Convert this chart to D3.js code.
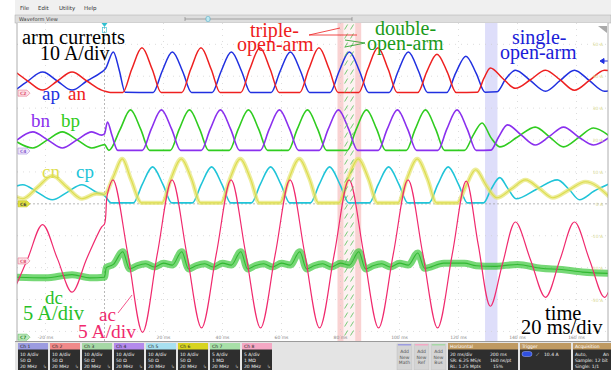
<!DOCTYPE html>
<html>
<head>
<meta charset="utf-8">
<script src="https://cdn.jsdelivr.net/npm/d3@7"></script>
<style>
  body { margin: 0; background: #fff; }
  svg { display: block; }
</style>
</head>
<body>
<svg id="chart" width="611" height="370"></svg>
<script>
// ---- data: [time ms, current A] ----
const timeTicks = [-20, 20, 40, 60, 80, 100, 120, 140, 160];
const scaleLabels = ['50 A', '40 A', '30 A', '20 A', '10 A', '0 A', '-10 A', '-20 A', '-30 A'];

const ap = [
  [-30,1.1],[-26,3.8],[-21,6.6],[-16,3.8],[-11,0.95],[-6,3.8],[-1,6.6],
  [0.3,7.6],[3,12.9],[5,7.2],[7,0.3],
  [16.5,0.2],[19.5,6.8],[23,12.9],[26.5,6.8],[29.5,0.2],
  [36.5,0.2],[39.5,6.8],[43,12.9],[46.5,6.8],[49.5,0.2],
  [56.5,0.2],[59.5,6.8],[63,12.9],[66.5,6.8],[69.5,0.2],
  [76.5,0.2],[79.5,6.8],[83,12.9],[86.5,6.8],[89.5,0.2],
  [96.5,0.2],[99.5,6.8],[103,12.9],[106.5,6.8],[109.5,0.2],
  [116,0.2],[119,6.2],[122.5,11.6],[126,6.2],[129,0.3],
  [133,0.4],[136,4.4],[139.3,7.2],[144.4,3.9],[149.5,0.6],[154.4,3.9],[159.3,7.2],[164.4,3.9],[169.5,0.6],[171,0.7]
];
const an = [
  [-30,6.5],[-26,3.8],[-21,0.95],[-16,3.8],[-11,6.6],[-6,3.8],[-1,0.95],[0.5,0.5],[2,0.2],
  [6.2,0.2],[9.2,7.4],[12.7,14.2],[16.2,7.4],[19.2,0.2],
  [26.2,0.2],[29.2,7.4],[32.7,14.2],[36.2,7.4],[39.2,0.2],
  [46.2,0.2],[49.2,7.4],[52.7,14.2],[56.2,7.4],[59.2,0.2],
  [66.2,0.2],[69.2,7.4],[72.7,14.2],[76.2,7.4],[79.2,0.2],
  [86.2,0.2],[89.2,7.4],[92.7,14.2],[96.2,7.4],[99.2,0.2],
  [106.2,0.2],[109.2,6.6],[112.7,12.2],[116.2,6.6],[119.2,0.2],
  [126.4,0.3],[128.6,4.6],[130.8,7.9],[135,4.6],[139.3,1.5],[144.4,4.2],[149.5,7.2],[154.4,4.2],[159.3,0.9],[164.4,4],[169.5,7.2],[171,7.1]
];
const bp = [
  [-30,3.0],[-24.3,0.95],[-19.3,3.5],[-14.3,6.0],[-9.3,3.5],[-4.3,0.95],[-1,1.8],[0,2.0],[1.5,0.2],
  [5.3,6.8],[8.8,12.9],[12.3,6.8],[15.3,0.2],
  [22.3,0.2],[25.3,6.8],[28.8,12.9],[32.3,6.8],[35.3,0.2],
  [42.3,0.2],[45.3,6.8],[48.8,12.9],[52.3,6.8],[55.3,0.2],
  [62.3,0.2],[65.3,6.8],[68.8,12.9],[72.3,6.8],[75.3,0.2],
  [82.3,0.2],[85.3,6.8],[88.8,12.9],[92.3,6.8],[95.3,0.2],
  [102.3,0.2],[105.3,6.8],[108.8,12.9],[112.3,6.8],[115.3,0.2],
  [122,0.2],[125,5],[128,8.8],[131,4.2],[134,1.3],[140,4.4],[146,7.5],[151,4.3],[155.6,1.3],[160.7,4.2],[165.8,7.2],[171,4.8]
];
const bn = [
  [-30,3.2],[-24.3,6.0],[-19.3,3.5],[-14.3,0.95],[-9.3,3.5],[-4.3,6.0],[-1,5.0],[0,5.4],[1,9.1],[2.5,5],[4.5,0.2],
  [12.8,0.2],[15.8,6.8],[19.3,12.9],[22.8,6.8],[25.8,0.2],
  [32.8,0.2],[35.8,6.8],[39.3,12.9],[42.8,6.8],[45.8,0.2],
  [52.8,0.2],[55.8,6.8],[59.3,12.9],[62.8,6.8],[65.8,0.2],
  [72.8,0.2],[75.8,6.8],[79.3,12.9],[82.8,6.8],[85.8,0.2],
  [92.8,0.2],[95.8,6.8],[99.3,12.9],[102.8,6.8],[105.8,0.2],
  [113,0.2],[116,6.8],[119.5,12.9],[123,6.8],[126,0.2],
  [131,0.3],[133.6,4.4],[136.6,8.2],[141.3,5],[146,1.9],[150.8,4.6],[155.6,7.5],[160.7,4.4],[165.8,1.9],[171,4.2]
];
const cp = [
  [-30,5.5],[-27.7,6.0],[-22.7,3.6],[-17.7,1.26],[-12.7,3.6],[-7.7,6.0],[-2.7,3.6],[0,2.6],[2.3,0.3],
  [9.8,0.3],[12.8,6.1],[16.3,11.6],[19.8,6.1],[22.8,0.3],
  [29.8,0.3],[32.8,6.1],[36.3,11.6],[39.8,6.1],[42.8,0.3],
  [49.8,0.3],[52.8,6.1],[56.3,11.6],[59.8,6.1],[62.8,0.3],
  [69.8,0.3],[72.8,6.1],[76.3,11.6],[79.8,6.1],[82.8,0.3],
  [89.8,0.3],[92.8,6.1],[96.3,11.6],[99.8,6.1],[102.8,0.3],
  [110,0.3],[113,6.1],[116.5,11.6],[120,6.1],[123,0.3],
  [128.5,0.3],[131,4.5],[134,8.2],[136.6,5],[139.5,1.6],[146.5,4.6],[153.5,7.5],[157.5,4.5],[161,1.3],[166,4],[171,6.2]
];
const cn = [
  [-30,2.2],[-27.7,1.6],[-22.7,5.2],[-17.7,8.8],[-12.7,5.2],[-7.7,1.6],[-2.7,3.2],[0,3.0],[3,8.5],[6,14.1],[9,7.6],[12.5,0.3],
  [19.5,0.3],[22.5,7.8],[26,14.1],[29.5,7.8],[32.5,0.3],
  [39.5,0.3],[42.5,7.8],[46,14.1],[49.5,7.8],[52.5,0.3],
  [59.5,0.3],[62.5,7.8],[66,14.1],[69.5,7.8],[72.5,0.3],
  [79.5,0.3],[82.5,7.8],[86,14.1],[89.5,7.8],[92.5,0.3],
  [99.5,0.3],[102.5,7.8],[106,14.1],[109.5,7.8],[112.5,0.3],
  [119.5,0.3],[122.5,5.6],[125.8,10.7],[129.5,5.6],[133,1.9],[138,4.7],[142.7,7.5],[147.5,4.7],[152,1.9],[157.5,4.4],[163,6.9],[171,2.3]
];
const ac = [
  [-31,-4.9],[-26,0.4],[-21,5.7],[-16,0.4],[-11,-4.9],[-6,0.4],[-1,5.3],[0,5.8],[1,10.5],[2.9,12.7],
  [7.9,1.1],[12.9,-11.2],[17.9,1.1],[22.9,12.7],[27.9,1.1],[32.9,-10.5],[37.9,1.1],[42.9,12.7],
  [47.9,1.1],[52.9,-10.5],[57.9,1.1],[62.9,12.7],[67.9,1.1],[72.9,-10.5],[77.9,1.1],[82.9,12.7],
  [87.9,1.1],[92.9,-10.5],[97.9,1.1],[102.9,12.7],[107.9,1.1],[112.9,-10.5],[117.9,1.1],[122.6,12.5],
  [126.7,2.5],[130.8,-7.1],[135,-0.3],[139.3,6.1],[144.4,0.2],[149.5,-5.7],[154.4,0.2],[159.3,6.1],
  [164.4,0.2],[169.5,-5.7],[174,0.2]
];
const dc = [
  [-30,9.4],[-20,9.3],[-11,9.8],[-5,9.3],[0,9.4],[0.6,10.9],[3,11.4],[6.2,13.4],[8.5,10.7],[11,11.2],[14,11.5],[17,11.0],[20,11.6],[23,11.3],
  [26.2,13.4],[28.5,10.7],[31,11.2],[34,11.5],[37,11.0],[40,11.6],[43,11.3],
  [46.2,13.4],[48.5,10.7],[51,11.2],[54,11.5],[57,11.0],[60,11.6],[63,11.3],
  [66.2,13.4],[68.5,10.7],[71,11.2],[74,11.5],[77,11.0],[80,11.6],[83,11.3],
  [86.2,13.4],[88.5,10.7],[91,11.2],[94,11.5],[97,11.0],[100,11.6],[103,11.3],
  [106.2,13.2],[108.5,10.8],[115,11.6],[122,11.6],[126,11.2],[132,11.1],[140,11.4],[148,10.8],[155,10.6],[162,10.2],[171,10.0]
];

// ---- layout ----
const svg = d3.select('#chart');
const plot = { l: 17, r: 608, t: 23, b: 341 };
const x = d3.scaleLinear().domain([-30, 170]).range([16, 606]);
const y = d3.scaleLinear().domain([-4.3, 5.7]).range([341, 22]);   // divisions, 0 = C6 zero

// channel offsets in divisions
const traces = [
  { data: ap, off: 3.47, perDiv: 10, color: '#2030e0', w: 1.5, curve: d3.curveMonotoneX },
  { data: an, off: 3.47, perDiv: 10, color: '#ee2020', w: 1.5, curve: d3.curveMonotoneX },
  { data: bp, off: 1.655, perDiv: 10, color: '#30cc20', w: 1.6, curve: d3.curveMonotoneX },
  { data: bn, off: 1.655, perDiv: 10, color: '#8a30ee', w: 1.6, curve: d3.curveMonotoneX },
  { data: cp, off: 0, perDiv: 10, color: '#20c4d8', w: 1.6, curve: d3.curveMonotoneX },
  { data: cn, off: 0, perDiv: 10, color: '#e6e670', w: 4.2, core: '#d8d83a', curve: d3.curveMonotoneX, noisy: true },
  { data: dc, off: -4.18, perDiv: 5, color: '#3cc83c', w: 7, core: '#22b022', curve: d3.curveMonotoneX, noisy: true },
  { data: ac, off: -1.79, perDiv: 5, color: '#f02a6e', w: 1.2, curve: d3.curveCatmullRom }
];

// ---- chrome ----
svg.append('rect').attr('x', 15).attr('y', 0).attr('width', 596).attr('height', 15).attr('fill', '#f0f0f0');
[['File', 20], ['Edit', 38], ['Utility', 59], ['Help', 84]].forEach(d => {
  svg.append('text').attr('x', d[1]).attr('y', 10).text(d[0])
    .style('font', '5.5px "DejaVu Sans"').attr('fill', '#333');
});
svg.append('rect').attr('x', 15).attr('y', 15).attr('width', 596).attr('height', 8)
  .attr('fill', '#dedede').attr('stroke', '#aaa').attr('stroke-width', 0.5);
svg.append('text').attr('x', 19).attr('y', 21).text('Waveform View')
  .style('font', '5px "DejaVu Sans"').attr('fill', '#333');
svg.append('line').attr('x1', 185).attr('x2', 352).attr('y1', 19).attr('y2', 19).attr('stroke', '#777').attr('stroke-width', 0.6);
svg.append('line').attr('x1', 185).attr('x2', 185).attr('y1', 17).attr('y2', 21).attr('stroke', '#777').attr('stroke-width', 0.6);
svg.append('line').attr('x1', 352).attr('x2', 352).attr('y1', 17).attr('y2', 21).attr('stroke', '#777').attr('stroke-width', 0.6);
svg.append('rect').attr('x', 206).attr('y', 16.5).attr('width', 4).attr('height', 5).attr('rx', 1.5)
  .attr('fill', '#bfe8f0').attr('stroke', '#3aa0c0').attr('stroke-width', 0.5);

// plot area
svg.append('rect').attr('x', plot.l).attr('y', plot.t).attr('width', plot.r - plot.l).attr('height', plot.b - plot.t)
  .attr('fill', '#fff');
svg.append('defs').append('clipPath').attr('id', 'clip').append('rect')
  .attr('x', plot.l).attr('y', plot.t).attr('width', plot.r - plot.l).attr('height', plot.b - plot.t);
const g = svg.append('g').attr('clip-path', 'url(#clip)');

// shaded transition bands
g.append('rect').attr('x', x(79)).attr('y', plot.t).attr('width', x(87) - x(79)).attr('height', plot.b - plot.t)
  .attr('fill', '#fdf2f2');
[[79, 81], [85, 87]].forEach(d => {
  g.append('rect').attr('x', x(d[0])).attr('y', plot.t).attr('width', x(d[1]) - x(d[0])).attr('height', plot.b - plot.t)
    .attr('fill', '#f9d2d2');
});
g.append('rect').attr('x', x(129)).attr('y', plot.t).attr('width', x(133.2) - x(129)).attr('height', plot.b - plot.t)
  .attr('fill', '#dedefa');

// graticule
g.selectAll('.vg').data(d3.range(-20, 170, 20)).join('line')
  .attr('x1', d => x(d)).attr('x2', d => x(d)).attr('y1', plot.t).attr('y2', plot.b)
  .attr('stroke', d => d === 0 ? '#999' : '#cfcfcf').attr('stroke-width', 0.7)
  .attr('stroke-dasharray', d => d === 0 ? '2,2' : '1,5');
g.selectAll('.hg').data(d3.range(-4, 6)).join('line')
  .attr('x1', plot.l).attr('x2', plot.r).attr('y1', d => y(d)).attr('y2', d => y(d))
  .attr('stroke', d => d === 0 ? '#999' : '#cfcfcf').attr('stroke-width', 0.7)
  .attr('stroke-dasharray', d => d === 0 ? '2,2' : '1,5');

// traces
traces.forEach(tr => {
  const line = d3.line()
    .x(d => x(d[0]))
    .y(d => y(tr.off + d[1] / tr.perDiv))
    .curve(tr.curve);
  if (tr.noisy) {
    g.append('path').attr('d', line(tr.data)).attr('fill', 'none')
      .attr('stroke', tr.color).attr('stroke-width', tr.w).attr('opacity', 0.7)
      .attr('stroke-linejoin', 'round');
    g.append('path').attr('d', line(tr.data)).attr('fill', 'none')
      .attr('stroke', tr.core).attr('stroke-width', 1.1).attr('opacity', 0.8);
  } else {
    g.append('path').attr('d', line(tr.data)).attr('fill', 'none')
      .attr('stroke', tr.color).attr('stroke-width', tr.w).attr('stroke-linejoin', 'round');
  }
});

// hatch in the pink band, over the traces
d3.range(plot.t + 4, plot.b, 9).forEach(yy => {
  [x(81.4), x(83.4)].forEach(xx => {
    g.append('line').attr('x1', xx).attr('y1', yy + 2.5).attr('x2', xx + 3).attr('y2', yy - 2.5)
      .attr('stroke', '#62c462').attr('stroke-width', 1).attr('opacity', 0.85);
  });
});

// right-hand scale labels (C6)
g.selectAll('.sl').data(scaleLabels).join('text')
  .attr('x', 603).attr('y', (d, i) => y(5 - i) + 2).attr('text-anchor', 'end')
  .text(d => d).style('font', '4.5px "DejaVu Sans"').attr('fill', '#d8d890');

// time tick labels
g.selectAll('.tl').data(timeTicks).join('text')
  .attr('x', d => x(d)).attr('y', 339).attr('text-anchor', 'middle')
  .text(d => d + ' ms').style('font', '4.5px "DejaVu Sans"').attr('fill', '#888');

// trigger markers
svg.append('path').attr('d', `M${x(0) - 3},23 h6 l-3,4 z`).attr('fill', '#30c0d0');
svg.append('rect').attr('x', x(0) - 2).attr('y', 27.5).attr('width', 4).attr('height', 5)
  .attr('fill', 'none').attr('stroke', '#30c0d0').attr('stroke-width', 0.6);
svg.append('path').attr('d', 'M600,61 l4,-2.5 v5 z M603,61 h5').attr('fill', '#2030e0').attr('stroke', '#2030e0').attr('stroke-width', 1);
svg.append('path').attr('d', 'M598,26 h9 v7 z').attr('fill', '#aaa');

// channel tags
const tags = [
  { t: 'C2', off: 3.47, fill: '#fde3e8', stroke: '#e8708a', txt: '#e05070' },
  { t: 'C4', off: 1.655, fill: '#efe6fb', stroke: '#a890e0', txt: '#8a60d0' },
  { t: 'C6', off: 0, fill: '#e0e040', stroke: '#c0c020', txt: '#444' },
  { t: 'C8', off: -1.79, fill: '#fde3e8', stroke: '#e8708a', txt: '#e05070' },
  { t: 'C7', off: -4.18, fill: '#bfe8bf', stroke: '#60c060', txt: '#2a8a2a' }
];
tags.forEach(d => {
  const yy = y(d.off);
  svg.append('path').attr('d', `M18,${yy - 3} h9 l3,3 l-3,3 h-9 z`)
    .attr('fill', d.fill).attr('stroke', d.stroke).attr('stroke-width', 0.6);
  svg.append('text').attr('x', 20).attr('y', yy + 1.8).text(d.t)
    .style('font', 'bold 4.5px "DejaVu Sans"').attr('fill', d.txt);
});

// plot frame
svg.append('line').attr('x1', plot.l).attr('x2', plot.l).attr('y1', plot.t).attr('y2', plot.b).attr('stroke', '#999').attr('stroke-width', 0.8);
svg.append('line').attr('x1', plot.r).attr('x2', plot.r).attr('y1', plot.t).attr('y2', plot.b).attr('stroke', '#999').attr('stroke-width', 0.8);

// ---- annotations ----
const serif = '"Liberation Serif", "DejaVu Serif", serif';
function label(txt, xx, yy, color, size) {
  svg.append('text').attr('x', xx).attr('y', yy).text(txt)
    .style('font-family', serif).style('font-size', size + 'px').attr('fill', color);
}
label('arm currents', 22, 44, '#000', 20.5);
label('10 A/div', 40, 60, '#000', 20);
label('ap', 42, 100, '#2030e0', 19);
label('an', 68, 100, '#ee2020', 19);
label('bn', 31, 127, '#8a30ee', 19);
label('bp', 61, 127, '#30cc20', 19);
label('cn', 42, 178, '#dede50', 19);
label('cp', 76, 178, '#20c4d8', 19);
label('dc', 45, 304, '#28c028', 19);
label('5 A/div', 23, 320, '#28c028', 20.5);
label('ac', 99, 321, '#f02a6e', 19);
label('5 A/div', 78, 338, '#f02a6e', 19.5);
label('triple-', 250, 37, '#ee1c1c', 20);
label('open-arm', 237, 51, '#ee1c1c', 20);
label('double-', 375, 35, '#1a9a1a', 20);
label('open-arm', 367, 50, '#1a9a1a', 20);
label('single-', 512, 44, '#1a20d8', 20);
label('open-arm', 500, 59, '#1a20d8', 20);
label('time', 545, 320, '#000', 20.5);
label('20 ms/div', 521, 334, '#000', 20.5);

// pointers
svg.append('path').attr('d', 'M309,35 L340,28 M309,35 L357,35').attr('stroke', '#ee1c1c').attr('stroke-width', 0.8).attr('fill', 'none');
svg.append('path').attr('d', 'M345,40 L365,43 L345,47').attr('stroke', '#1a9a1a').attr('stroke-width', 0.8).attr('fill', 'none');
svg.append('path').attr('d', 'M118,313 L132,295').attr('stroke', '#f02a6e').attr('stroke-width', 0.8);

// ---- bottom control bar ----
svg.append('rect').attr('x', 15).attr('y', 341).attr('width', 596).attr('height', 29).attr('fill', '#e4e4e4');
svg.append('line').attr('x1', 15).attr('x2', 611).attr('y1', 341.5).attr('y2', 341.5).attr('stroke', '#888').attr('stroke-width', 0.8);
const chHead = ['#9c9ce0', '#f08a8a', '#a6d8a6', '#b48aec', '#a8e0f0', '#d8d420', '#a8e0a8', '#f4a8c4'];
const chScale = ['10 A/div', '10 A/div', '10 A/div', '10 A/div', '10 A/div', '10 A/div', '5 A/div', '5 A/div'];
const chImp = ['50 Ω', '50 Ω', '50 Ω', '50 Ω', '50 Ω', '50 Ω', '1 MΩ', '1 MΩ'];
const small = '"DejaVu Sans", sans-serif';
chHead.forEach((c, i) => {
  const x0 = 18 + i * 32;
  svg.append('rect').attr('x', x0).attr('y', 343).attr('width', 30).attr('height', 27).attr('fill', '#2e2e2e');
  svg.append('rect').attr('x', x0).attr('y', 343).attr('width', 30).attr('height', 6.5).attr('fill', c);
  svg.append('text').attr('x', x0 + 2).attr('y', 348).text('Ch ' + (i + 1))
    .style('font', `4.5px ${small}`).attr('fill', '#222');
  [chScale[i], chImp[i], '20 MHz'].forEach((t, k) => {
    svg.append('text').attr('x', x0 + 2).attr('y', 355.5 + k * 6).text(t)
      .style('font', `4.5px ${small}`).attr('fill', '#eee');
  });
  svg.append('text').attr('x', x0 + 25).attr('y', 367.5).text('↳').style('font', `4.5px ${small}`).attr('fill', '#ccc');
});
[['Math', '#9c9ce0'], ['Ref', '#f4a8c4'], ['Bus', '#a6d8a6']].forEach((d, i) => {
  const x0 = 397 + i * 17;
  svg.append('rect').attr('x', x0).attr('y', 344).attr('width', 15).attr('height', 26).attr('fill', '#d4d4d4').attr('stroke', '#bbb').attr('stroke-width', 0.4);
  svg.append('rect').attr('x', x0 + 1).attr('y', 344).attr('width', 13).attr('height', 1.5).attr('fill', d[1]);
  ['Add', 'New', d[0]].forEach((t, k) => {
    svg.append('text').attr('x', x0 + 7.5).attr('y', 353 + k * 5.5).attr('text-anchor', 'middle').text(t)
      .style('font', `4.5px ${small}`).attr('fill', '#555');
  });
});
function box(x0, w, title, rows) {
  svg.append('rect').attr('x', x0).attr('y', 343).attr('width', w).attr('height', 27).attr('fill', '#2e2e2e');
  svg.append('rect').attr('x', x0).attr('y', 343).attr('width', w).attr('height', 6.5).attr('fill', '#bf9a62');
  svg.append('text').attr('x', x0 + 2).attr('y', 348).text(title).style('font', `4.5px ${small}`).attr('fill', '#fff');
  rows.forEach(r => {
    svg.append('text').attr('x', x0 + r[1]).attr('y', r[2]).text(r[0]).style('font', `4.5px ${small}`).attr('fill', '#eee');
  });
}
box(448, 70, 'Horizontal', [['20 ms/div', 2, 356], ['200 ms', 42, 356], ['SR: 6.25 MS/s', 2, 362], ['160 ns/pt', 42, 362], ['RL: 1.25 Mpts', 2, 368], ['15%', 45, 368]]);
box(520, 51, 'Trigger', [['⟋', 16, 356], ['10.4 A', 24, 356]]);
svg.append('rect').attr('x', 522).attr('y', 351.5).attr('width', 10).attr('height', 5).attr('rx', 2.5).attr('fill', '#3050e0').attr('stroke', '#a0b0ff').attr('stroke-width', 0.5);
box(573, 38, 'Acquisition', [['Auto,', 2, 356], ['An', 30, 356], ['Sample: 12 bit', 2, 362], ['Single: 1/1', 2, 368]]);
</script>
</body>
</html>
